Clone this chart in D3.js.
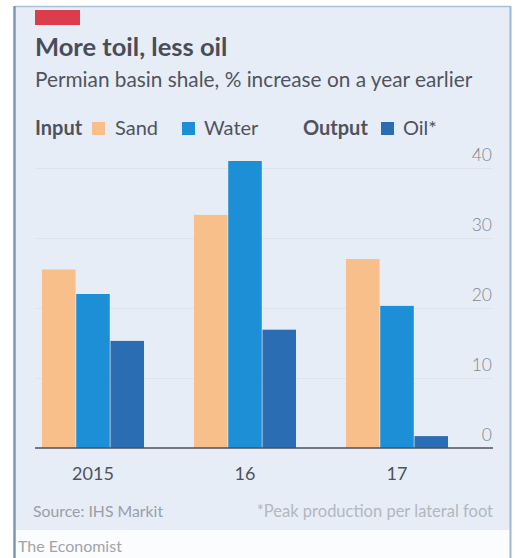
<!DOCTYPE html>
<html>
<head>
<meta charset="utf-8">
<script src="https://cdn.jsdelivr.net/npm/d3@7"></script>
<style>
  html, body { margin: 0; padding: 0; background: #ffffff; }
  svg { display: block; }
  text { font-family: Lato, "Open Sans", sans-serif; }
</style>
</head>
<body>
<svg id="chart" width="515" height="558"></svg>
<script>
// ---- data ----
const years = ["2015", "16", "17"];
const seriesNames = ["Sand", "Water", "Oil*"];
const sand = [25.5, 33.3, 27.0];
const water = [22.0, 41.0, 20.3];
const oil = [15.3, 16.9, 1.7];
const yTicks = [0, 10, 20, 30, 40];
const colors = ["#f8bf8b", "#1c8fd7", "#2a6db3"];

const seriesValues = [sand, water, oil];

const svg = d3.select("#chart");
const W = 515, H = 558;

// frame & background
svg.append("rect").attr("x", 0).attr("y", 0).attr("width", W).attr("height", H).attr("fill", "#ffffff");
svg.append("rect").attr("x", 15).attr("y", 6).attr("width", 495).attr("height", 524).attr("fill", "#e6edf6");
svg.append("rect").attr("x", 15).attr("y", 530).attr("width", 495).attr("height", 30).attr("fill", "#fbfcfe");
svg.append("line").attr("x1", 15).attr("x2", 510).attr("y1", 6.5).attr("y2", 6.5).attr("stroke", "#a8c2da").attr("stroke-width", 1.5);
svg.append("line").attr("x1", 14.5).attr("x2", 14.5).attr("y1", 6).attr("y2", H).attr("stroke", "#7f97b2").attr("stroke-width", 2.5);
svg.append("line").attr("x1", 510.5).attr("x2", 510.5).attr("y1", 6).attr("y2", H).attr("stroke", "#9fb8d0").attr("stroke-width", 2);

// red tag
svg.append("rect").attr("x", 35).attr("y", 10).attr("width", 45).attr("height", 15).attr("fill", "#dc3d4d");

// title & subtitle
svg.append("text").attr("x", 35).attr("y", 56)
  .attr("font-size", 25.5).attr("font-weight", 700).attr("fill", "#4a4d57")
  .text("More toil, less oil");
svg.append("text").attr("x", 35).attr("y", 87)
  .attr("font-size", 20.8).attr("fill", "#50545e")
  .text("Permian basin shale, % increase on a year earlier");

// legend
const legY = 135;
const leg = svg.append("g").attr("font-size", 20).attr("fill", "#4f535d");
leg.append("text").attr("x", 35).attr("y", legY).attr("font-weight", 700).text("Input");
leg.append("text").attr("x", 303).attr("y", legY).attr("font-weight", 700).text("Output");
const legendItems = [
  { name: seriesNames[0], color: colors[0], sx: 92, tx: 115 },
  { name: seriesNames[1], color: colors[1], sx: 182, tx: 204 },
  { name: seriesNames[2], color: colors[2], sx: 381, tx: 403 }
];
legendItems.forEach(d => {
  leg.append("rect").attr("x", d.sx).attr("y", legY - 13).attr("width", 13).attr("height", 13).attr("fill", d.color);
  leg.append("text").attr("x", d.tx).attr("y", legY).text(d.name);
});

// scales
const x0 = d3.scaleBand().domain(years).range([42, 448]).paddingInner(0.329).paddingOuter(0);
const x1 = d3.scaleBand().domain(seriesNames).range([0, x0.bandwidth()]).paddingInner(0.02);
const y = d3.scaleLinear().domain([0, 40]).range([448, 168]);

// gridlines
svg.append("g").selectAll("line").data(yTicks.filter(t => t !== 0)).join("line")
  .attr("x1", 35).attr("x2", 493)
  .attr("y1", d => y(d) + 0.5).attr("y2", d => y(d) + 0.5)
  .attr("stroke", "#dce4ee").attr("stroke-width", 1);

// y tick labels (right side, above gridlines)
svg.append("g").selectAll("text").data(yTicks).join("text")
  .attr("x", 492).attr("y", d => y(d) - 7)
  .attr("text-anchor", "end").attr("font-size", 17.5).attr("font-weight", 300).attr("fill", "#83868e")
  .text(d => d);

// bars
const groups = svg.append("g").selectAll("g").data(years).join("g")
  .attr("transform", d => `translate(${x0(d)},0)`);
groups.selectAll("rect")
  .data((yr, i) => seriesNames.map((s, j) => ({ s, v: seriesValues[j][i], c: colors[j] })))
  .join("rect")
  .attr("x", d => x1(d.s))
  .attr("width", x1.bandwidth())
  .attr("y", d => y(d.v))
  .attr("height", d => y(0) - y(d.v))
  .attr("fill", d => d.c);

// baseline
svg.append("line").attr("x1", 35).attr("x2", 493).attr("y1", y(0)).attr("y2", y(0))
  .attr("stroke", "#4e5159").attr("stroke-width", 1.6);

// x axis labels
svg.append("g").selectAll("text").data(years).join("text")
  .attr("x", d => x0(d) + x0.bandwidth() / 2).attr("y", 480)
  .attr("text-anchor", "middle").attr("font-size", 18).attr("fill", "#4f535d")
  .text(d => d);

// source & note
svg.append("text").attr("x", 33).attr("y", 517).attr("font-size", 15.8).attr("fill", "#9a9ea8")
  .text("Source: IHS Markit");
svg.append("text").attr("x", 493).attr("y", 517).attr("text-anchor", "end").attr("font-size", 16.5).attr("fill", "#b3b7bf")
  .text("*Peak production per lateral foot");

// masthead
svg.append("text").attr("x", 18).attr("y", 552).attr("font-size", 16)
  .attr("font-family", "'Liberation Serif', 'DejaVu Serif', serif").attr("fill", "#a3a3a8")
  .text("The Economist");
</script>
</body>
</html>
